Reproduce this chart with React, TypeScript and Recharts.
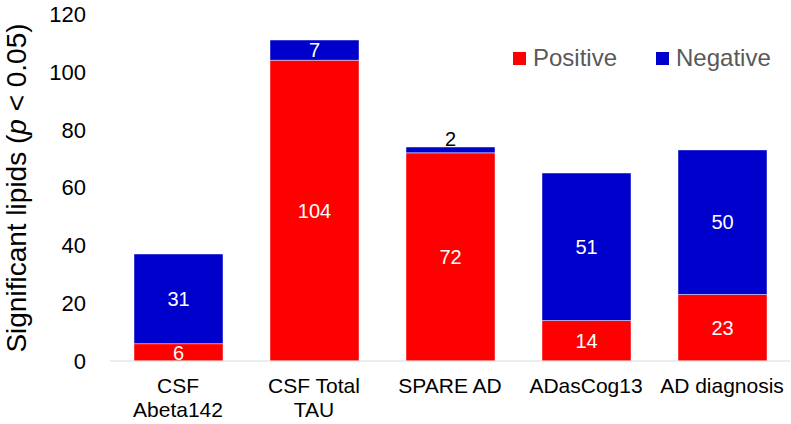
import React from 'react';
import { BarChart, Bar, XAxis, YAxis, LabelList, Legend } from 'recharts';

const categories = ['CSF Abeta142', 'CSF Total TAU', 'SPARE AD', 'ADasCog13', 'AD diagnosis'];
const categoryLines = [['CSF', 'Abeta142'], ['CSF Total', 'TAU'], ['SPARE AD'], ['ADasCog13'], ['AD diagnosis']];
const positive = [6, 104, 72, 14, 23];
const negative = [31, 7, 2, 51, 50];
const yTicks = [0, 20, 40, 60, 80, 100, 120];

const data = categories.map((c, i) => ({ name: c, idx: i, Positive: positive[i], Negative: negative[i] }));

const FONT = '"Liberation Sans", Arial, sans-serif';
const RED = '#FF0000';
const BLUE = '#0000CC';

const XTick = (props: any) => {
  const { x, y, payload } = props;
  const lines = categoryLines[payload.index] ?? [payload.value];
  return (
    <text x={x} y={y} textAnchor="middle" fontFamily={FONT} fontSize={21} fill="#000">
      {lines.map((l: string, i: number) => (
        <tspan key={i} x={x} y={y + 32 + i * 24}>{l}</tspan>
      ))}
    </text>
  );
};

const YTick = (props: any) => {
  const { y, payload } = props;
  return (
    <text x={86} y={y} dy="0.36em" textAnchor="end" fontFamily={FONT} fontSize={22} fill="#000">
      {payload.value}
    </text>
  );
};

const centerLabel = (props: any) => {
  const { x, y, width, height, value } = props;
  return (
    <text x={x + width / 2} y={y + height / 2} dy="0.36em" textAnchor="middle" fontFamily={FONT} fontSize={20} fill="#fff">
      {value}
    </text>
  );
};

const negLabel = (props: any) => {
  const { x, y, width, height, value } = props;
  if (value < 5) {
    return (
      <text x={x + width / 2} y={y - 1} textAnchor="middle" fontFamily={FONT} fontSize={20} fill="#000">
        {value}
      </text>
    );
  }
  return centerLabel(props);
};

const YTitle = () => (
  <text
    x={26}
    y={188}
    transform="rotate(-90, 26, 188)"
    textAnchor="middle"
    fontFamily={FONT}
    fontSize={28}
    fill="#000"
  >
    Significant lipids (<tspan fontStyle="italic">p</tspan> &lt; 0.05)
  </text>
);

const LegendContent = () => (
  <div style={{ position: 'relative', height: 0, width: 0, fontFamily: FONT }}>
    {[
      { label: 'Positive', color: RED, left: 513 },
      { label: 'Negative', color: BLUE, left: 656 },
    ].map((it) => (
      <div key={it.label} style={{ position: 'absolute', left: it.left, top: 44, display: 'flex', alignItems: 'center', whiteSpace: 'nowrap' }}>
        <span style={{ display: 'inline-block', width: 13, height: 13, background: it.color, marginRight: 7 }} />
        <span style={{ fontSize: 24, color: '#595959', lineHeight: '28px' }}>{it.label}</span>
      </div>
    ))}
  </div>
);

export default function App() {
  return (
    <div style={{ position: 'absolute', left: 0, top: 0, width: 791, height: 424, background: '#fff' }}>
      <BarChart
        width={791}
        height={424}
        data={data}
        margin={{ top: 14, right: 1, left: 0, bottom: 0 }}
        barSize={89}
      >
        <XAxis
          dataKey="name"
          height={63}
          tickLine={false}
          tickSize={0}
          tickMargin={0}
          axisLine={{ stroke: '#d9d9d9', strokeWidth: 1 }}
          tick={<XTick />}
          interval={0}
        />
        <YAxis
          width={110}
          domain={[0, 120]}
          ticks={yTicks}
          axisLine={false}
          tickLine={false}
          tick={<YTick />}
          label={<YTitle />}
        />
        <Legend
          content={<LegendContent />}
          wrapperStyle={{ position: 'absolute', left: 0, top: 0, width: 0, height: 0 }}
        />
        <Bar dataKey="Positive" stackId="a" fill={RED} stroke="#ffffff" strokeOpacity={0.45} strokeWidth={1} isAnimationActive={false}>
          <LabelList dataKey="Positive" content={centerLabel} />
        </Bar>
        <Bar dataKey="Negative" stackId="a" fill={BLUE} stroke="#ffffff" strokeOpacity={0.45} strokeWidth={1} isAnimationActive={false}>
          <LabelList dataKey="Negative" content={negLabel} />
        </Bar>
      </BarChart>
    </div>
  );
}
